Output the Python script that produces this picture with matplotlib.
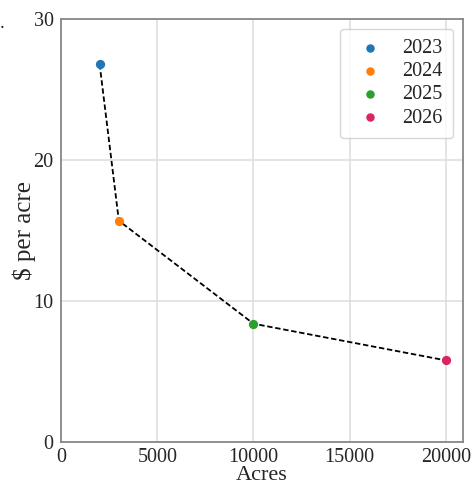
import matplotlib
matplotlib.use("Agg")
import matplotlib.pyplot as plt
import seaborn as sns

years = ["2023", "2024", "2025", "2026"]
acres = [2000, 3000, 10000, 20000]
cost_per_acre = [26.8, 15.7, 8.4, 5.8]
colors = ["#1f77b4", "#ff7f0e", "#2ca02c", "#d62760"]

sns.set_style("whitegrid")
plt.rcParams["font.family"] = ["Liberation Serif", "DejaVu Serif"]

fig, ax = plt.subplots(figsize=(4.74, 4.87), dpi=100)
ax.plot(acres, cost_per_acre, color="black", ls=(0, (3, 1.5)), lw=1.3, zorder=2)
for year, x, y, c in zip(years, acres, cost_per_acre, colors):
    ax.scatter(x, y, color=c, s=32, label=year, zorder=3)

ax.set_xlim(0, 20900)
ax.set_ylim(0, 30)
ax.set_xticks([0, 5000, 10000, 15000, 20000])
ax.set_yticks([0, 10, 20, 30])
ax.tick_params(axis="x", labelsize=14.5, pad=1)
ax.tick_params(axis="y", labelsize=14.5, pad=2)
ax.set_xlabel("Acres", fontsize=16, labelpad=-1)
ax.set_ylabel("\\$ per acre", fontsize=18, labelpad=-2)
ax.grid(color="#dddddd", lw=1.1)
for s in ax.spines.values():
    s.set_color("#888888")
    s.set_linewidth(1.3)

ax.legend(loc="upper right", fontsize=14.5, labelspacing=0.2,
          handletextpad=0.6, borderpad=0.5, markerscale=0.9)
fig.text(0.0, 0.943, ".", fontsize=14)

fig.subplots_adjust(left=0.129, right=0.977, top=0.961, bottom=0.092)
fig.savefig("out.png", dpi=100)
